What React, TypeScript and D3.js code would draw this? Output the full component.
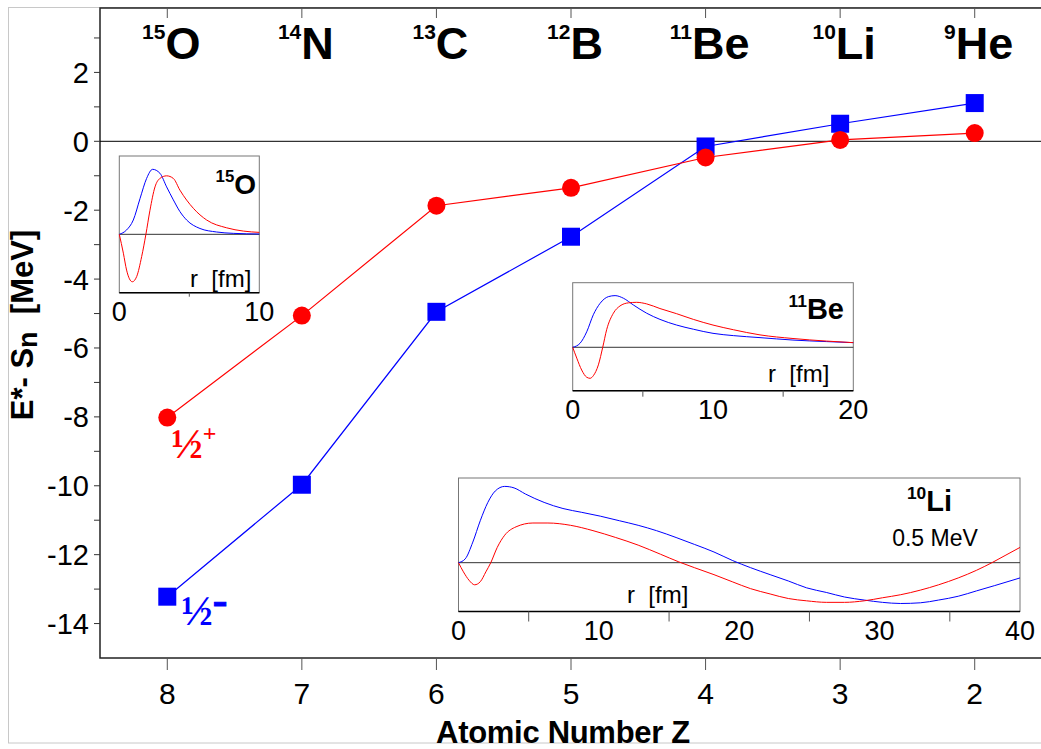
import React from 'react';
import * as d3 from 'd3';

// constants
const width = 1041;
const height = 749;
const plot = { left: 100, right: 1042, top: 8, bottom: 658 };

// main chart data
const atomicNumbers = [8, 7, 6, 5, 4, 3, 2];
const massNumbers = ['15', '14', '13', '12', '11', '10', '9'];
const symbols = ['O', 'N', 'C', 'B', 'Be', 'Li', 'He'];
const halfPlus = [-8.02, -5.06, -1.87, -1.35, -0.47, 0.04, 0.24];
const halfMinus = [-13.22, -9.97, -4.95, -2.77, -0.15, 0.51, 1.11];
const yMajorTicks = [2, 0, -2, -4, -6, -8, -10, -12, -14];
const yMinorTicks = [3, 1, -1, -3, -5, -7, -9, -11, -13];

// inset wave functions, [r (fm), amplitude]
const o15Blue = [[0, 0], [0.52, 0.067], [1.0, 0.22], [1.48, 0.55], [1.95, 0.86], [2.38, 1.0], [2.9, 0.94], [3.38, 0.73], [3.86, 0.53], [4.33, 0.35], [4.81, 0.22], [5.76, 0.09], [6.95, 0.036], [8.14, 0.015], [10, 0.005]];
const o15Red = [[0, 0], [0.29, -0.29], [0.52, -0.55], [0.93, -0.73], [1.24, -0.65], [1.6, -0.34], [1.9, 0], [2.19, 0.37], [2.55, 0.73], [2.9, 0.86], [3.38, 0.9], [3.86, 0.86], [4.33, 0.68], [5.29, 0.4], [6.24, 0.22], [7.67, 0.1], [8.86, 0.05], [10, 0.03]];
const be11Blue = [[0, 0], [0.52, 0.077], [1.0, 0.3], [1.47, 0.63], [1.95, 0.85], [2.54, 0.98], [3.02, 1.0], [3.61, 0.95], [4.32, 0.82], [5.27, 0.66], [6.22, 0.54], [7.41, 0.43], [8.6, 0.35], [10, 0.27], [11.45, 0.226], [13.35, 0.187], [15.7, 0.14], [18.1, 0.11], [20, 0.09]];
const be11Red = [[0, 0], [0.29, -0.21], [0.64, -0.44], [1.0, -0.58], [1.24, -0.6], [1.47, -0.55], [1.83, -0.34], [2.14, 0], [2.42, 0.34], [2.9, 0.66], [3.37, 0.8], [3.97, 0.86], [4.56, 0.87], [5.27, 0.84], [6.22, 0.75], [7.41, 0.65], [8.6, 0.54], [10, 0.43], [11.45, 0.34], [13.35, 0.24], [15.7, 0.17], [18.1, 0.12], [20, 0.09]];
const li10Blue = [[0, 0], [0.48, 0.05], [1.02, 0.27], [1.55, 0.55], [2.09, 0.79], [2.62, 0.94], [3.29, 1.0], [3.96, 0.98], [4.77, 0.9], [6.1, 0.79], [7.44, 0.71], [8.78, 0.66], [10.1, 0.61], [11.46, 0.55], [12.8, 0.49], [14.1, 0.42], [15.5, 0.33], [16.8, 0.24], [18.2, 0.14], [19.5, 0.03], [20.8, -0.065], [22.2, -0.157], [23.5, -0.24], [24.8, -0.33], [26.2, -0.39], [27.5, -0.45], [28.9, -0.49], [30.2, -0.52], [31.5, -0.535], [32.9, -0.526], [34.2, -0.49], [35.6, -0.44], [36.9, -0.37], [38.2, -0.3], [40, -0.2]];
const li10Red = [[0, 0], [0.35, -0.12], [0.75, -0.23], [1.15, -0.29], [1.55, -0.25], [1.95, -0.12], [2.3, 0], [2.76, 0.2], [3.29, 0.36], [4.1, 0.47], [5.3, 0.52], [6.37, 0.52], [7.98, 0.49], [9.58, 0.42], [11.2, 0.33], [12.8, 0.23], [14.4, 0.11], [15.7, 0.01], [16.8, -0.065], [18.2, -0.157], [19.5, -0.25], [20.8, -0.34], [22.2, -0.41], [23.5, -0.47], [24.8, -0.5], [26.2, -0.52], [27.5, -0.52], [28.9, -0.5], [30.2, -0.46], [31.5, -0.42], [32.9, -0.36], [34.2, -0.29], [35.6, -0.2], [36.9, -0.1], [38, 0], [39, 0.1], [40, 0.2]];

const font = 'Liberation Sans, Arial, sans-serif';
const serif = 'Liberation Serif, Times New Roman, serif';

// scales
const xScale = d3.scaleLinear().domain([8.5, 1.5]).range([plot.left, plot.right]);
const yScale = d3.scaleLinear().domain([3.87, -15]).range([plot.top, plot.bottom]);

const mainLine = d3.line<number>()
  .x((d, i) => xScale(atomicNumbers[i]))
  .y(d => yScale(d));

type InsetProps = {
  box: { left: number; right: number; top: number; bottom: number };
  rMax: number;
  yDomain: [number, number];
  labelTicks: number[];
  minorTicks: number[];
  tickLen: number;
  blue: number[][];
  red: number[][];
  mass: string;
  symbol: string;
  titleSize: number;
  titleX: number;
  titleY: number;
  rLabelX: number;
  rLabelY: number;
  extra?: string;
};

const Inset = (p: InsetProps) => {
  const { box } = p;
  const x = d3.scaleLinear().domain([0, p.rMax]).range([box.left, box.right]);
  const y = d3.scaleLinear().domain(p.yDomain).range([box.bottom, box.top]);
  const line = d3.line<number[]>().x(d => x(d[0])).y(d => y(d[1])).curve(d3.curveMonotoneX);
  return (
    <g>
      <rect x={box.left} y={box.top} width={box.right - box.left} height={box.bottom - box.top}
        fill="#fff" stroke="#777" strokeWidth={1} />
      <line x1={box.left} x2={box.right} y1={y(0)} y2={y(0)} stroke="#333" strokeWidth={1} />
      <path d={line(p.blue) || ''} fill="none" stroke="#0000ff" strokeWidth={1} />
      <path d={line(p.red) || ''} fill="none" stroke="#ff0000" strokeWidth={1} />
      <line x1={box.left} x2={box.right} y1={box.bottom} y2={box.bottom} stroke="#000" strokeWidth={1.5} />
      {p.minorTicks.map(t => (
        <line key={t} x1={x(t)} x2={x(t)} y1={box.bottom} y2={box.bottom + p.tickLen} stroke="#555" />
      ))}
      {p.labelTicks.map(t => (
        <text key={t} x={x(t)} y={box.bottom + 28} textAnchor="middle" fontSize={27} fontFamily={font}>{t}</text>
      ))}
      <text x={p.titleX} y={p.titleY} textAnchor="end" fontFamily={font} fontWeight="bold">
        <tspan fontSize={p.titleSize * 0.6} dy={-p.titleSize * 0.42}>{p.mass}</tspan>
        <tspan fontSize={p.titleSize} dy={p.titleSize * 0.42}>{p.symbol}</tspan>
      </text>
      {p.extra && (
        <text x={p.titleX - 17} y={p.titleY + 35} textAnchor="middle" fontSize={23} fontFamily={font}>{p.extra}</text>
      )}
      <text x={p.rLabelX} y={p.rLabelY} fontSize={24} fontFamily={font}>{'r\u00a0\u00a0[fm]'}</text>
    </g>
  );
};

const App = () => {
  return (
    <svg width={width} height={height} style={{ position: 'absolute', left: 0, top: 0 }}>
      <rect x={8.5} y={7.5} width={1040} height={735.5} fill="none" stroke="#c8c8c8" />
      {/* plot frame */}
      <rect x={plot.left} y={plot.top} width={plot.right - plot.left} height={plot.bottom - plot.top}
        fill="none" stroke="#222" strokeWidth={1.5} />
      <line x1={plot.left} x2={plot.right} y1={yScale(0)} y2={yScale(0)} stroke="#000" strokeWidth={1} />

      {/* y axis */}
      {yMajorTicks.map(t => (
        <g key={t}>
          <line x1={plot.left - 6} x2={plot.left} y1={yScale(t)} y2={yScale(t)} stroke="#333" />
          <text x={89} y={yScale(t) + 10.5} textAnchor="end" fontSize={29} fontFamily={font}>{t}</text>
        </g>
      ))}
      {yMinorTicks.map(t => (
        <line key={t} x1={plot.left - 6} x2={plot.left} y1={yScale(t)} y2={yScale(t)} stroke="#333" />
      ))}
      <text transform={`translate(33, 325) rotate(-90)`} textAnchor="middle" fontSize={31} fontWeight="bold" fontFamily={font}>
        <tspan>E*- S</tspan>
        <tspan fontSize={27} dy={4}>n</tspan>
        <tspan dy={-4}>{'\u00a0\u00a0[MeV]'}</tspan>
      </text>

      {/* x axes (bottom and top) */}
      {atomicNumbers.map((z, i) => (
        <g key={z}>
          <line x1={xScale(z)} x2={xScale(z)} y1={plot.bottom} y2={plot.bottom + 12} stroke="#555" />
          <text x={xScale(z)} y={704} textAnchor="middle" fontSize={30} fontFamily={font}>{z}</text>
          <line x1={xScale(z)} x2={xScale(z)} y1={plot.top} y2={plot.top + 10} stroke="#555" />
          <text x={xScale(z) + 4} y={59} textAnchor="middle" fontFamily={font} fontWeight="bold">
            <tspan fontSize={21} dy={-20}>{massNumbers[i]}</tspan>
            <tspan fontSize={45} dy={20}>{symbols[i]}</tspan>
          </text>
        </g>
      ))}
      <text x={563} y={743} textAnchor="middle" fontSize={31} fontWeight="bold" fontFamily={font} letterSpacing={-0.3}>
        Atomic Number Z
      </text>

      {/* insets */}
      <Inset box={{ left: 119.3, right: 259.3, top: 156, bottom: 292.7 }} rMax={10} yDomain={[-0.898, 1.205]}
        labelTicks={[0, 10]} minorTicks={[5]} tickLen={4} blue={o15Blue} red={o15Red}
        mass="15" symbol="O" titleSize={28} titleX={256} titleY={194} rLabelX={190} rLabelY={287} />
      <Inset box={{ left: 572.7, right: 853.3, top: 282.7, bottom: 390.7 }} rMax={20} yDomain={[-0.84, 1.25]}
        labelTicks={[0, 10, 20]} minorTicks={[5, 15]} tickLen={6} blue={be11Blue} red={be11Red}
        mass="11" symbol="Be" titleSize={29} titleX={844} titleY={319} rLabelX={768} rLabelY={382} />
      <Inset box={{ left: 458.5, right: 1020, top: 478, bottom: 611.5 }} rMax={40} yDomain={[-0.64, 1.11]}
        labelTicks={[0, 10, 20, 30, 40]} minorTicks={[5, 15, 25, 35]} tickLen={10} blue={li10Blue} red={li10Red}
        mass="10" symbol="Li" titleSize={29} titleX={952} titleY={511} rLabelX={627} rLabelY={603} extra="0.5 MeV" />

      {/* series */}
      <path d={mainLine(halfMinus) || ''} fill="none" stroke="#0000ff" strokeWidth={1.2} />
      <path d={mainLine(halfPlus) || ''} fill="none" stroke="#ff0000" strokeWidth={1.2} />
      {halfMinus.map((v, i) => (
        <rect key={i} x={xScale(atomicNumbers[i]) - 9} y={yScale(v) - 9} width={18} height={18} fill="#0000ff" />
      ))}
      {halfPlus.map((v, i) => (
        <circle key={i} cx={xScale(atomicNumbers[i])} cy={yScale(v)} r={9} fill="#ff0000" />
      ))}

      {/* spin-parity labels */}
      <text x={xScale(8) + 4} y={yScale(halfPlus[0]) + 40} fontFamily={serif} fontWeight="bold" fill="#ff0000">
        <tspan fontSize={42}>½</tspan>
        <tspan fontSize={24} dy={-17}>+</tspan>
      </text>
      <text x={xScale(8) + 14} y={yScale(halfMinus[0]) + 28} fontFamily={serif} fontWeight="bold" fill="#0000ff">
        <tspan fontSize={42}>½</tspan>
        <tspan fontSize={44} dy={-10} stroke="#0000ff" strokeWidth={1}>-</tspan>
      </text>
    </svg>
  );
};

export default App;
